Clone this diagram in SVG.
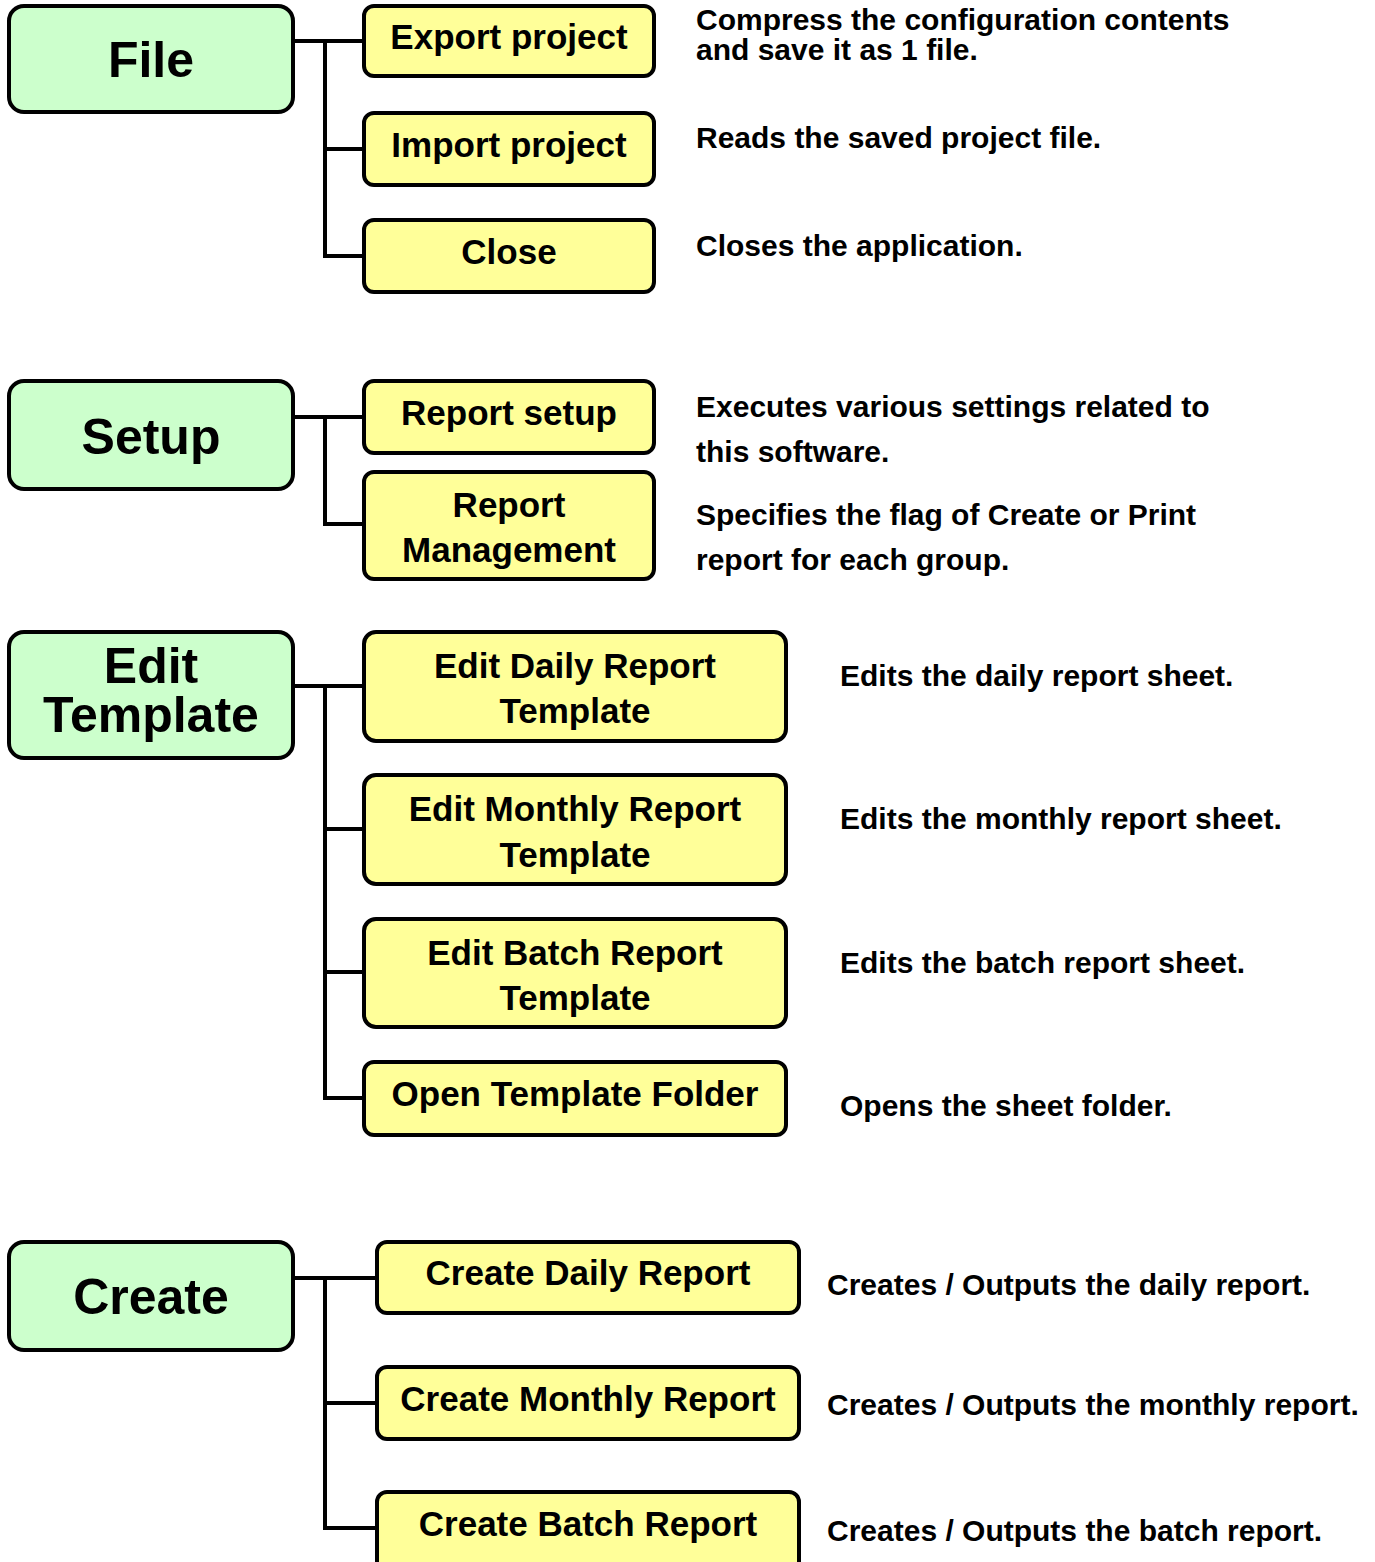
<svg xmlns="http://www.w3.org/2000/svg" width="1375" height="1562" viewBox="0 0 1375 1562">
<style>
.main{fill:#CCFFCC;stroke:#000;stroke-width:4}
.sub{fill:#FFFF99;stroke:#000;stroke-width:4}
.mt{font-family:"Liberation Sans",Arial,sans-serif;font-weight:bold;font-size:50px;text-anchor:middle;fill:#000}
.st{font-family:"Liberation Sans",Arial,sans-serif;font-weight:bold;font-size:35px;text-anchor:middle;fill:#000}
.dt{font-family:"Liberation Sans",Arial,sans-serif;font-weight:bold;font-size:30px;fill:#000}
.con{fill:none;stroke:#000;stroke-width:4}
</style>
<rect width="1375" height="1562" fill="#fff"/>
<g id="connectors">
<path class="con" d="M293 41H364M325 41V256H364M325 149H364"/>
<path class="con" d="M293 417H364M325 417V524H364"/>
<path class="con" d="M293 686H364M325 686V1098H364M325 829H364M325 972H364"/>
<path class="con" d="M293 1278H377M325 1278V1528H377M325 1403H377"/>
</g>
<g id="file"><rect class="main" x="9" y="6" width="284" height="106" rx="15"/><text class="mt" x="151" y="77">File</text></g>
<g id="export"><rect class="sub" x="364" y="6" width="290" height="70" rx="10"/><text class="st" x="509" y="49">Export project</text></g>
<g id="import"><rect class="sub" x="364" y="113" width="290" height="72" rx="10"/><text class="st" x="509" y="157">Import project</text></g>
<g id="close"><rect class="sub" x="364" y="220" width="290" height="72" rx="10"/><text class="st" x="509" y="264">Close</text></g>
<g id="setup"><rect class="main" x="9" y="381" width="284" height="108" rx="15"/><text class="mt" x="151" y="454">Setup</text></g>
<g id="report-setup"><rect class="sub" x="364" y="381" width="290" height="72" rx="10"/><text class="st" x="509" y="425">Report setup</text></g>
<g id="report-mgmt"><rect class="sub" x="364" y="472" width="290" height="107" rx="10"/><text class="st" x="509" y="517">Report</text><text class="st" x="509" y="562">Management</text></g>
<g id="edit-template"><rect class="main" x="9" y="632" width="284" height="126" rx="15"/><text class="mt" x="151" y="683">Edit</text><text class="mt" x="151" y="732">Template</text></g>
<g id="edit-daily"><rect class="sub" x="364" y="632" width="422" height="109" rx="12"/><text class="st" x="575" y="678">Edit Daily Report</text><text class="st" x="575" y="723">Template</text></g>
<g id="edit-monthly"><rect class="sub" x="364" y="775" width="422" height="109" rx="12"/><text class="st" x="575" y="821">Edit Monthly Report</text><text class="st" x="575" y="867">Template</text></g>
<g id="edit-batch"><rect class="sub" x="364" y="919" width="422" height="108" rx="12"/><text class="st" x="575" y="965">Edit Batch Report</text><text class="st" x="575" y="1010">Template</text></g>
<g id="open-folder"><rect class="sub" x="364" y="1062" width="422" height="73" rx="10"/><text class="st" x="575" y="1106">Open Template Folder</text></g>
<g id="create"><rect class="main" x="9" y="1242" width="284" height="108" rx="15"/><text class="mt" x="151" y="1314">Create</text></g>
<g id="create-daily"><rect class="sub" x="377" y="1242" width="422" height="71" rx="10"/><text class="st" x="588" y="1285">Create Daily Report</text></g>
<g id="create-monthly"><rect class="sub" x="377" y="1367" width="422" height="72" rx="10"/><text class="st" x="588" y="1411">Create Monthly Report</text></g>
<g id="create-batch"><rect class="sub" x="377" y="1492" width="422" height="80" rx="10"/><text class="st" x="588" y="1536">Create Batch Report</text></g>
<g id="descriptions">
<text class="dt" x="696" y="30">Compress the configuration contents</text>
<text class="dt" x="696" y="60">and save it as 1 file.</text>
<text class="dt" x="696" y="148">Reads the saved project file.</text>
<text class="dt" x="696" y="256">Closes the application.</text>
<text class="dt" x="696" y="417">Executes various settings related to</text>
<text class="dt" x="696" y="462">this software.</text>
<text class="dt" x="696" y="525">Specifies the flag of Create or Print</text>
<text class="dt" x="696" y="570">report for each group.</text>
<text class="dt" x="840" y="686">Edits the daily report sheet.</text>
<text class="dt" x="840" y="829">Edits the monthly report sheet.</text>
<text class="dt" x="840" y="973">Edits the batch report sheet.</text>
<text class="dt" x="840" y="1116">Opens the sheet folder.</text>
<text class="dt" x="827" y="1295">Creates / Outputs the daily report.</text>
<text class="dt" x="827" y="1415">Creates / Outputs the monthly report.</text>
<text class="dt" x="827" y="1541">Creates / Outputs the batch report.</text>
</g>
</svg>
